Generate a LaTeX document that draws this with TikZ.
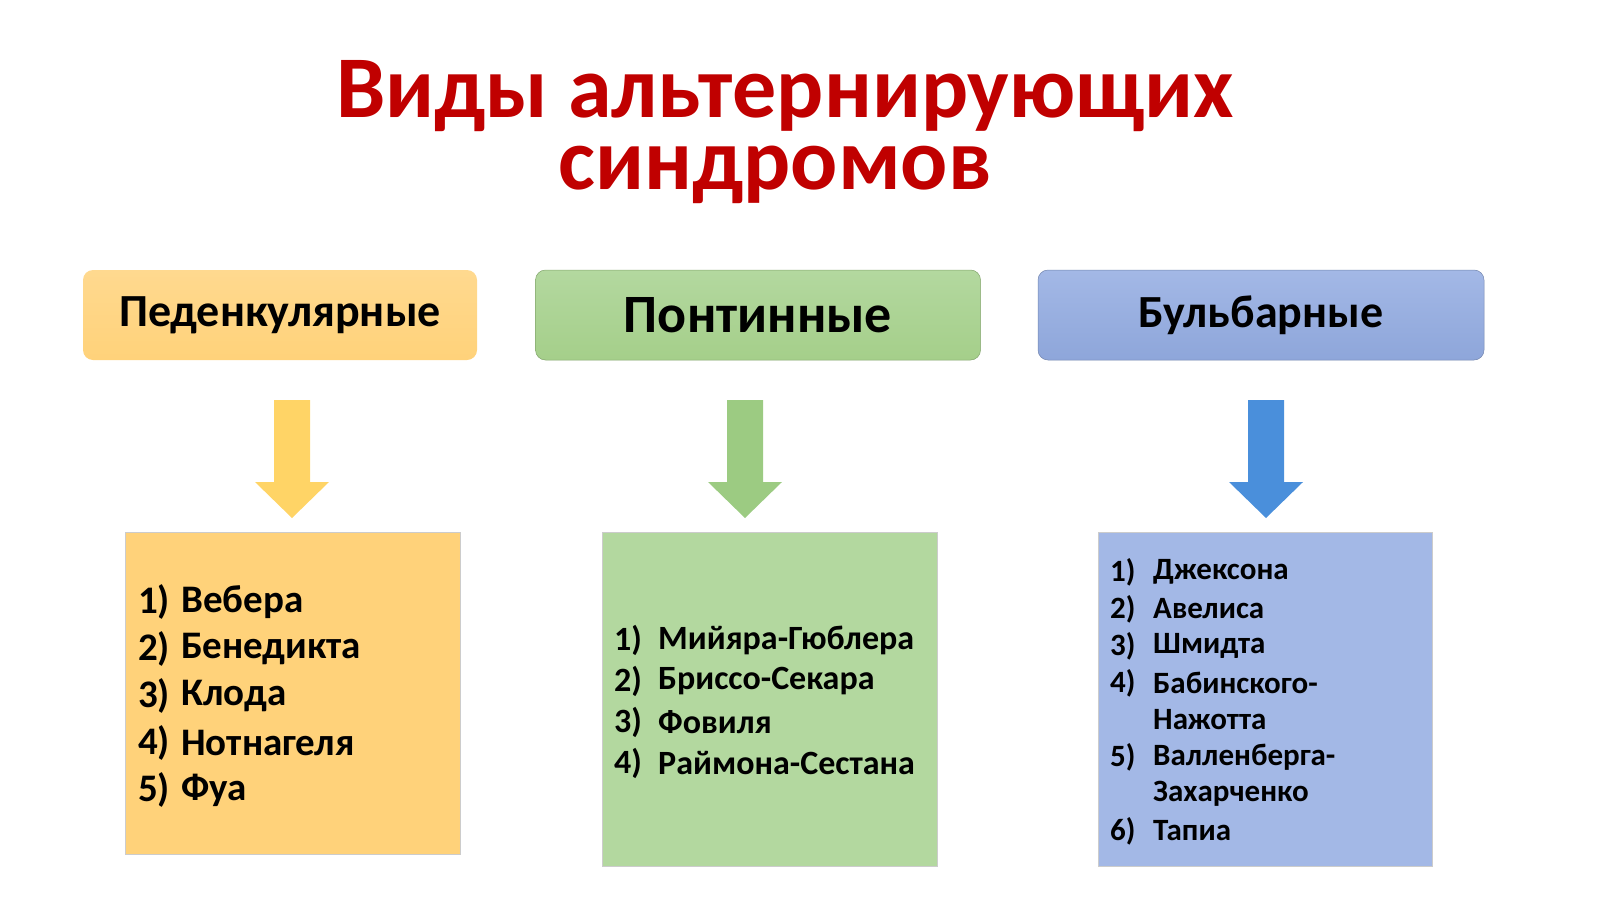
\documentclass[tikz,border=0pt]{standalone}
\usepackage{fontspec}
\setmainfont{Carlito}
\definecolor{tred}{HTML}{C00000}
\definecolor{oA}{HTML}{FFD98F}\definecolor{oB}{HTML}{FFD27A}
\definecolor{gA}{HTML}{B3D89F}\definecolor{gB}{HTML}{A5CF8A}
\definecolor{bA}{HTML}{A3B8E6}\definecolor{bB}{HTML}{8EA6DA}
\definecolor{arO}{HTML}{FFD466}\definecolor{arG}{HTML}{9CCB82}\definecolor{arB}{HTML}{4A8FDB}
\tikzset{
 hdr/.style={rounded corners=10pt,minimum height=90pt,inner sep=0pt,font=\bfseries\fontsize{46}{46}\selectfont},
 lst/.style={minimum height=322pt,inner sep=0pt,draw=white!80!black,line width=0.8pt,anchor=north west},
 itm/.style={anchor=west,inner sep=0pt,font=\bfseries\fontsize{#1}{#1}\selectfont},
 ttl/.style={text=tred,inner sep=0pt,anchor=base,font=\bfseries\fontsize{88}{88}\selectfont},
}
\newcommand{\dnarrow}[3]{\fill[#3] (#1-18,#2) -- (#1+18,#2) -- (#1+18,#2+82) -- (#1+37,#2+82) -- (#1,#2+118) -- (#1-37,#2+82) -- (#1-18,#2+82) -- cycle;}
\begin{document}
\begin{tikzpicture}[x=1pt,y=-1pt]
\useasboundingbox (0,0) rectangle (1600,899);
\node[ttl] (t1) at (785,117) {Виды альтернирующих};
\node[ttl] (t2) at (775,189) {синдромов};
\node[hdr,top color=oA,bottom color=oB,minimum width=394pt] (h1) at (280,315) {Педенкулярные};
\node[hdr,top color=gA,bottom color=gB,draw=gB!80!black,line width=0.5pt,minimum width=445pt,font=\bfseries\fontsize{54}{54}\selectfont] (h2) at (758,315) {Понтинные};
\node[hdr,top color=bA,bottom color=bB,draw=bB!80!black,line width=0.5pt,minimum width=446pt] (h3) at (1261,315) {Бульбарные};
\dnarrow{292}{400}{arO}
\dnarrow{745}{400}{arG}
\dnarrow{1266}{400}{arB}
\node[lst,fill=oB,minimum width=335pt] (b1) at (125,532) {};
\node[lst,fill=gA,minimum width=335pt,minimum height=334pt] (b2) at (602,532) {};
\node[lst,fill=bA,minimum width=334pt,minimum height=334pt] (b3) at (1098,532) {};
\foreach \t [count=\i] in {Вебера,Бенедикта,Клода,Нотнагеля,Фуа}{
  \node[itm=39] (p\i) at (138,{555+47*\i}) {\i)};
  \node[itm=39] (q\i) at (181,{555+47*\i}) {\t};}
\foreach \t [count=\i] in {Мийяра-Гюблера,Бриссо-Секара,Фовиля,Раймона-Сестана}{
  \node[itm=34] (r\i) at (614,{599+41*\i}) {\i)};
  \node[itm=34] (s\i) at (658,{599+41*\i}) {\t};}
\foreach \n/\t/\y in {1)/Джексона/572,2)/Авелиса/609,3)/Шмидта/646,4)/Бабинского-/683,5)/Валленберга-/757,6)/Тапиа/831}{
  \node[itm=31] at (1110,\y) {\n};
  \node[itm=31] at (1153,\y) {\t};}
\node[itm=31] (u1) at (1153,720) {Нажотта};
\node[itm=31] (u2) at (1153,794) {Захарченко};
\end{tikzpicture}
\end{document}
